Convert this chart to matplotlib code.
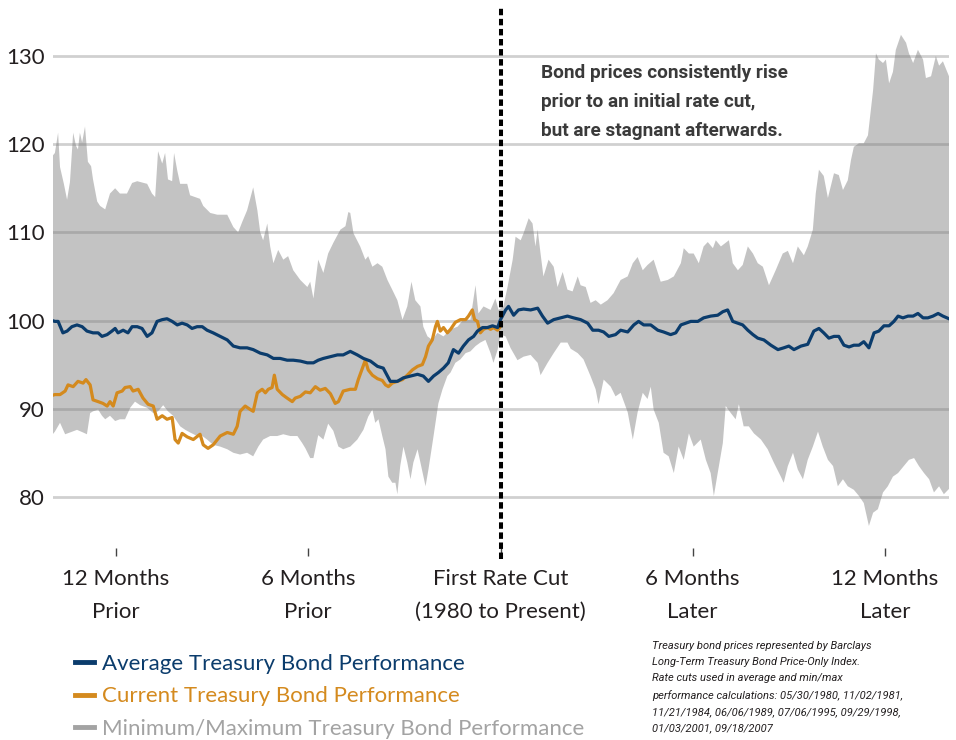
import matplotlib
matplotlib.use("Agg")
import matplotlib.pyplot as plt
from matplotlib.lines import Line2D
import numpy as np

plt.rcParams['font.family'] = ['Lato', 'DejaVu Sans']

# months relative to the first rate cut, index level (start = 100)
upper_m = [-14.0, -13.91, -13.81, -13.75, -13.63, -13.53, -13.44, -13.34, -13.25, -13.19,
           -13.13, -13.06, -12.97, -12.88, -12.78, -12.72, -12.59, -12.5, -12.34, -12.19,
           -12.03, -11.88, -11.66, -11.5, -11.34, -11.03, -10.88, -10.78, -10.69, -10.56,
           -10.47, -10.38, -10.25, -10.19, -10.09, -10.0, -9.78, -9.69, -9.38, -9.28,
           -9.06, -8.84, -8.53, -8.34, -8.19, -8.06, -7.91, -7.72, -7.59, -7.5,
           -7.41, -7.28, -7.19, -7.09, -6.94, -6.78, -6.63, -6.47, -6.25, -6.03,
           -5.94, -5.84, -5.69, -5.53, -5.38, -5.22, -5.0, -4.84, -4.75, -4.69,
           -4.59, -4.38, -4.22, -4.13, -4.0, -3.84, -3.69, -3.53, -3.38, -3.22,
           -3.06, -2.91, -2.78, -2.66, -2.5, -2.41, -2.28, -2.13, -1.97, -1.78,
           -1.56, -1.34, -1.16, -0.94, -0.78, -0.69, -0.53, -0.31, -0.16, -0.06,
           0.09, 0.22, 0.38, 0.47, 0.63, 0.72, 0.88, 1.0, 1.09, 1.16,
           1.25, 1.34, 1.5, 1.66, 1.78, 1.94, 2.09, 2.25, 2.41, 2.5,
           2.66, 2.81, 2.97, 3.13, 3.34, 3.53, 3.75, 3.97, 4.13, 4.28,
           4.44, 4.59, 4.78, 5.0, 5.22, 5.41, 5.63, 5.72, 5.88, 6.03,
           6.19, 6.34, 6.47, 6.63, 6.72, 6.88, 7.13, 7.25, 7.41, 7.56,
           7.72, 7.88, 8.03, 8.19, 8.38, 8.59, 8.81, 8.97, 9.13, 9.28,
           9.47, 9.59, 9.75, 9.84, 9.94, 10.09, 10.22, 10.41, 10.56, 10.69,
           10.84, 10.94, 11.03, 11.19, 11.34, 11.47, 11.63, 11.72, 11.81, 11.94,
           12.03, 12.13, 12.25, 12.34, 12.5, 12.66, 12.75, 12.88, 13.03, 13.19,
           13.28, 13.44, 13.59, 13.69, 13.81, 13.91, 14.0]
upper_v = [118.6, 119.0, 121.3, 117.4, 115.5, 113.7, 115.7, 121.3, 119.8, 119.4,
           121.3, 120.2, 122.0, 118.0, 117.5, 116.0, 113.5, 113.0, 112.6, 114.4,
           115.0, 114.4, 114.4, 115.6, 115.8, 115.5, 114.4, 114.0, 119.2, 117.8,
           119.0, 116.0, 115.8, 119.0, 117.0, 115.5, 115.5, 114.2, 113.8, 113.0,
           112.2, 112.0, 112.0, 110.6, 110.0, 111.2, 112.5, 115.1, 112.5, 110.0,
           109.1, 111.0, 108.4, 106.5, 108.0, 106.9, 107.3, 105.7, 104.6, 103.8,
           104.4, 102.5, 106.9, 105.4, 107.6, 108.8, 110.3, 110.7, 112.3, 112.2,
           109.9, 108.4, 106.9, 107.3, 106.1, 106.5, 106.1, 104.6, 103.5, 102.3,
           100.1, 101.6, 104.4, 102.3, 101.6, 99.3, 98.2, 97.8, 98.6, 98.2,
           99.0, 99.3, 100.1, 100.1, 104.0, 100.8, 101.6, 101.2, 102.5, 101.2,
           101.6, 103.8, 106.9, 109.5, 109.1, 109.9, 111.6, 111.0, 108.4, 110.3,
           107.6, 105.0, 106.9, 106.1, 103.8, 105.5, 103.5, 103.3, 105.0, 104.0,
           103.8, 102.0, 102.3, 101.8, 102.3, 103.1, 104.6, 105.0, 106.5, 107.2,
           105.7, 106.3, 106.9, 104.4, 104.6, 105.0, 106.5, 108.2, 107.6, 107.6,
           106.5, 108.4, 108.9, 108.2, 109.1, 108.4, 109.1, 106.5, 105.7, 106.3,
           108.4, 107.6, 106.5, 106.1, 104.0, 105.7, 107.6, 107.9, 106.5, 108.4,
           107.4, 108.4, 110.3, 114.4, 117.1, 116.4, 113.9, 116.7, 116.5, 114.8,
           115.9, 118.2, 119.7, 120.1, 120.1, 121.0, 126.1, 130.3, 129.6, 129.2,
           129.6, 126.9, 128.2, 130.7, 132.4, 131.5, 130.3, 129.2, 130.7, 129.6,
           127.5, 127.7, 130.0, 128.9, 129.4, 128.5, 127.7]

lower_m = [-14.0, -13.91, -13.75, -13.59, -13.44, -13.22, -13.03, -12.91, -12.81, -12.72,
           -12.56, -12.44, -12.34, -12.19, -12.03, -11.88, -11.72, -11.56, -11.41, -11.25,
           -11.03, -10.84, -10.69, -10.53, -10.38, -10.22, -10.0, -9.84, -9.69, -9.47,
           -9.38, -9.16, -8.97, -8.75, -8.53, -8.34, -8.13, -7.91, -7.72, -7.56,
           -7.41, -7.19, -6.97, -6.78, -6.56, -6.34, -6.19, -6.09, -5.94, -5.84,
           -5.69, -5.53, -5.38, -5.22, -5.06, -4.91, -4.69, -4.47, -4.28, -4.13,
           -4.0, -3.91, -3.81, -3.69, -3.59, -3.5, -3.38, -3.28, -3.22, -3.13,
           -3.03, -2.91, -2.81, -2.72, -2.59, -2.5, -2.34, -2.25, -2.09, -1.94,
           -1.81, -1.66, -1.56, -1.41, -1.25, -1.09, -0.94, -0.78, -0.63, -0.47,
           -0.31, -0.22, -0.09, 0.0, 0.16, 0.31, 0.53, 0.72, 0.94, 1.16,
           1.25, 1.47, 1.66, 1.88, 2.09, 2.19, 2.41, 2.59, 2.81, 2.97,
           3.06, 3.22, 3.44, 3.59, 3.75, 3.97, 4.13, 4.28, 4.44, 4.59,
           4.69, 4.78, 4.94, 5.09, 5.25, 5.41, 5.56, 5.72, 5.88, 6.03,
           6.25, 6.41, 6.56, 6.66, 6.78, 6.94, 7.03, 7.19, 7.34, 7.44,
           7.59, 7.75, 7.91, 8.13, 8.34, 8.53, 8.75, 8.84, 8.97, 9.13,
           9.28, 9.44, 9.59, 9.75, 9.91, 10.06, 10.22, 10.38, 10.53, 10.69,
           10.84, 11.03, 11.19, 11.34, 11.5, 11.63, 11.78, 11.94, 12.09, 12.25,
           12.41, 12.59, 12.75, 12.91, 13.06, 13.22, 13.38, 13.53, 13.69, 13.84,
           14.0]
lower_v = [87.0, 87.4, 88.4, 87.1, 87.3, 87.6, 87.3, 87.1, 89.5, 89.7,
           89.9, 89.2, 88.8, 89.2, 88.6, 88.8, 88.8, 90.1, 90.8, 90.4,
           90.1, 89.5, 89.7, 90.4, 89.7, 89.2, 88.0, 87.6, 87.3, 86.9,
           87.1, 86.5, 85.9, 85.7, 85.4, 85.0, 84.8, 85.0, 84.6, 85.7,
           86.5, 86.9, 86.9, 87.1, 86.9, 86.9, 86.1, 85.5, 84.4, 84.4,
           87.0, 86.5, 88.3, 87.5, 85.7, 85.4, 85.7, 86.5, 87.6, 89.1,
           89.9, 88.4, 88.8, 86.9, 85.4, 82.3, 81.6, 81.6, 80.3, 83.5,
           85.7, 83.9, 82.0, 83.9, 85.4, 83.9, 81.2, 83.1, 86.9, 90.6,
           92.2, 93.7, 94.1, 95.2, 95.6, 96.3, 96.5, 97.1, 97.5, 97.8,
           96.3, 95.2, 96.7, 98.4, 98.2, 96.9, 95.5, 95.9, 96.1, 95.2,
           93.8, 95.2, 96.3, 97.5, 97.5, 96.8, 96.3, 95.6, 93.7, 92.2,
           90.5, 93.3, 92.5, 91.4, 91.8, 89.6, 86.5, 89.6, 91.8, 91.1,
           92.5, 89.9, 88.4, 85.0, 84.6, 82.7, 85.7, 84.2, 87.2, 85.7,
           86.5, 84.2, 82.7, 80.1, 82.7, 86.1, 90.3, 89.5, 88.8, 90.5,
           88.0, 88.0, 87.2, 86.5, 85.4, 83.9, 82.3, 81.6, 83.5, 85.0,
           83.1, 82.0, 84.2, 85.7, 87.4, 85.7, 84.2, 83.5, 81.2, 82.0,
           81.2, 80.8, 80.1, 79.3, 76.7, 78.2, 78.6, 80.5, 81.2, 82.3,
           82.7, 83.5, 84.2, 84.4, 83.5, 82.7, 82.0, 80.5, 81.2, 80.3,
           80.9]

avg_m = [-14.0, -13.91, -13.81, -13.66, -13.53, -13.38, -13.22, -13.06, -12.91, -12.72,
         -12.56, -12.44, -12.28, -12.13, -12.03, -11.94, -11.78, -11.63, -11.5, -11.34,
         -11.19, -11.03, -10.88, -10.72, -10.56, -10.41, -10.25, -10.09, -9.94, -9.78,
         -9.63, -9.47, -9.31, -9.16, -8.97, -8.75, -8.53, -8.34, -8.13, -7.91,
         -7.72, -7.5, -7.28, -7.09, -6.88, -6.66, -6.47, -6.25, -6.03, -5.84,
         -5.69, -5.53, -5.31, -5.09, -4.91, -4.69, -4.47, -4.28, -4.06, -3.84,
         -3.66, -3.44, -3.22, -3.03, -2.81, -2.59, -2.41, -2.25, -2.09, -1.94,
         -1.78, -1.63, -1.47, -1.31, -1.16, -1.0, -0.84, -0.72, -0.56, -0.41,
         -0.25, -0.09, 0.0, 0.16, 0.25, 0.41, 0.56, 0.72, 0.94, 1.16,
         1.31, 1.47, 1.66, 1.88, 2.09, 2.28, 2.5, 2.72, 2.88, 3.06,
         3.22, 3.38, 3.59, 3.75, 3.97, 4.16, 4.31, 4.47, 4.69, 4.91,
         5.09, 5.31, 5.47, 5.63, 5.78, 5.94, 6.16, 6.34, 6.56, 6.78,
         6.94, 7.09, 7.25, 7.41, 7.56, 7.72, 7.88, 8.03, 8.22, 8.44,
         8.66, 8.84, 9.0, 9.16, 9.38, 9.59, 9.78, 9.94, 10.09, 10.25,
         10.41, 10.56, 10.72, 10.88, 11.03, 11.19, 11.34, 11.5, 11.66, 11.81,
         11.97, 12.13, 12.28, 12.41, 12.56, 12.72, 12.88, 13.03, 13.19, 13.34,
         13.5, 13.66, 13.81, 14.0]
avg_v = [100.0, 99.9, 99.9, 98.6, 98.8, 99.3, 99.5, 99.3, 98.8, 98.6,
         98.6, 98.2, 98.4, 98.8, 99.1, 98.6, 98.9, 98.6, 99.3, 99.3,
         99.1, 98.2, 98.6, 99.9, 100.1, 100.2, 99.9, 99.5, 99.7, 99.5,
         99.1, 99.3, 99.3, 98.9, 98.6, 98.2, 97.8, 97.1, 96.9, 96.9,
         96.7, 96.3, 96.1, 95.7, 95.7, 95.5, 95.5, 95.4, 95.2, 95.2,
         95.5, 95.7, 95.9, 96.1, 96.1, 96.5, 96.1, 95.7, 95.4, 94.8,
         94.6, 93.1, 93.1, 93.5, 93.7, 93.9, 93.7, 93.1, 93.7, 94.1,
         94.6, 95.2, 96.7, 96.3, 97.1, 97.8, 98.2, 98.8, 99.2, 99.2,
         99.4, 99.2, 100.1, 101.2, 101.6, 100.6, 101.2, 101.3, 101.2, 101.4,
         100.5, 99.7, 100.1, 100.3, 100.5, 100.3, 100.1, 99.7, 98.9, 98.9,
         98.7, 98.2, 98.4, 98.9, 98.7, 99.5, 99.9, 99.5, 99.5, 98.9,
         98.7, 98.4, 98.6, 99.5, 99.7, 99.9, 99.9, 100.3, 100.5, 100.6,
         101.0, 101.2, 99.9, 99.7, 99.5, 98.9, 98.4, 98.0, 97.8, 97.2,
         96.7, 96.9, 97.1, 96.7, 97.1, 97.3, 98.8, 99.1, 98.6, 98.0,
         98.2, 98.2, 97.2, 97.0, 97.2, 97.2, 97.6, 96.9, 98.6, 98.8,
         99.4, 99.4, 99.9, 100.5, 100.3, 100.5, 100.5, 100.8, 100.3, 100.3,
         100.5, 100.8, 100.5, 100.2]

cur_m = [-14.0, -13.91, -13.75, -13.59, -13.5, -13.34, -13.19, -13.03, -12.94, -12.81,
         -12.72, -12.56, -12.41, -12.28, -12.19, -12.09, -11.97, -11.81, -11.72, -11.56,
         -11.47, -11.31, -11.16, -11.0, -10.84, -10.72, -10.56, -10.41, -10.25, -10.16,
         -10.06, -9.94, -9.78, -9.59, -9.38, -9.28, -9.13, -8.97, -8.75, -8.53,
         -8.34, -8.22, -8.13, -7.97, -7.81, -7.72, -7.59, -7.44, -7.34, -7.25,
         -7.13, -7.06, -6.97, -6.81, -6.66, -6.5, -6.41, -6.25, -6.09, -5.94,
         -5.78, -5.63, -5.47, -5.31, -5.16, -5.06, -4.91, -4.69, -4.53, -4.44,
         -4.31, -4.22, -4.13, -4.0, -3.84, -3.69, -3.59, -3.5, -3.38, -3.22,
         -3.06, -2.91, -2.75, -2.59, -2.44, -2.34, -2.25, -2.13, -2.03, -1.97,
         -1.88, -1.78, -1.66, -1.56, -1.41, -1.25, -1.09, -1.0, -0.88, -0.81,
         -0.72, -0.63, -0.53, -0.41, -0.31, -0.22, -0.09, -0.03]
cur_v = [91.5, 91.6, 91.6, 92.0, 92.7, 92.5, 93.1, 92.9, 93.3, 92.7,
         91.0, 90.8, 90.6, 90.3, 90.8, 90.3, 91.8, 92.0, 92.4, 92.5,
         92.0, 92.2, 91.2, 90.5, 90.3, 88.8, 89.2, 88.8, 89.0, 86.5,
         86.1, 87.2, 86.8, 86.5, 87.1, 85.9, 85.5, 85.9, 86.9, 87.3,
         87.1, 88.0, 89.7, 90.3, 89.9, 89.7, 91.8, 92.2, 91.8, 92.2,
         92.4, 93.8, 92.2, 91.6, 91.2, 90.8, 91.2, 91.4, 91.9, 91.8,
         92.5, 92.1, 92.3, 91.7, 90.6, 90.8, 92.0, 92.2, 92.2, 93.3,
         94.6, 95.5, 94.4, 93.8, 93.4, 93.2, 92.7, 92.5, 92.9, 93.1,
         93.3, 93.8, 94.4, 94.8, 95.0, 95.9, 97.1, 97.8, 99.3, 99.9,
         98.8, 99.2, 98.6, 99.0, 99.8, 100.1, 100.1, 100.5, 101.2, 100.1,
         99.9, 98.6, 99.0, 99.2, 99.0, 99.2, 98.9, 99.2]

tick_pos = [-12, -6, 0, 6, 12]
tick_labels = ["12 Months\nPrior", "6 Months\nPrior", "First Rate Cut\n(1980 to Present)",
               "6 Months\nLater", "12 Months\nLater"]
y_ticks = [80, 90, 100, 110, 120, 130]

navy = '#0b3c6c'
orange = '#d48a1e'
band_grey = '#7b7b7b'
legend_grey = '#a3a3a3'

fig = plt.figure(figsize=(9.56, 7.4), dpi=100)
ax = fig.add_axes([53.3 / 956, 192 / 740, 895.7 / 956, 548 / 740])

band_x = np.concatenate([upper_m, lower_m[::-1]])
band_y = np.concatenate([upper_v, lower_v[::-1]])
ax.fill(band_x, band_y, color=band_grey, alpha=0.45, lw=0, zorder=2)

ax.plot(avg_m, avg_v, color=navy, lw=2.3, zorder=4, solid_joinstyle='round')
ax.plot(cur_m, cur_v, color=orange, lw=2.3, zorder=3, solid_joinstyle='round')

ax.axvline(0, ymin=-0.02, ymax=0.985, color='black', lw=2.9,
           linestyle=(0, (1.6, 0.9)), clip_on=False, zorder=6)

ax.set_xlim(-13.96, 14.0)
ax.set_ylim(74.2, 136.35)
ax.set_yticks(y_ticks)
ax.set_xticks(tick_pos)
ax.set_xticklabels(tick_labels, linespacing=1.8)
ax.yaxis.grid(True, color='#d0d0d0', lw=2, zorder=1)
ax.set_axisbelow(True)
for s in ax.spines.values():
    s.set_visible(False)
ax.tick_params(axis='y', length=0, pad=6, labelsize=16, labelcolor='#231f20')
ax.tick_params(axis='x', length=6, width=1, color='#444444', direction='out',
               pad=9, labelsize=16, labelcolor='#231f20')

fig.text(541 / 956, 1 - 64 / 740,
         "Bond prices consistently rise\nprior to an initial rate cut,\nbut are stagnant afterwards.",
         ha='left', va='top', fontsize=13.7, fontweight='bold', family=['Roboto', 'DejaVu Sans'],
         color='#3a3a3a', linespacing=1.8)

fig.text(652 / 956, 1 - 641 / 740,
         "Treasury bond prices represented by Barclays\n"
         "Long-Term Treasury Bond Price-Only Index.\n"
         "Rate cuts used in average and min/max\n"
         "performance calculations: 05/30/1980, 11/02/1981,\n"
         "11/21/1984, 06/06/1989, 07/06/1995, 09/29/1998,\n"
         "01/03/2001, 09/18/2007",
         ha='left', va='top', fontsize=8, fontstyle='italic',
         family=['Roboto', 'DejaVu Sans'], color='#231f20', linespacing=1.76)

handles = [Line2D([], [], color=navy, lw=3.5),
           Line2D([], [], color=orange, lw=3.5),
           Line2D([], [], color=legend_grey, lw=3.5)]
labels = ["Average Treasury Bond Performance",
          "Current Treasury Bond Performance",
          "Minimum/Maximum Treasury Bond Performance"]
leg = fig.legend(handles, labels, loc='upper left', bbox_to_anchor=(75 / 956, 1 - 654 / 740),
                 frameon=False, fontsize=16, handlelength=0.85, handletextpad=0.35,
                 labelspacing=0.56, borderpad=0, borderaxespad=0)
for t, c in zip(leg.get_texts(), [navy, orange, legend_grey]):
    t.set_color(c)

fig.savefig("out.png", dpi=100)
